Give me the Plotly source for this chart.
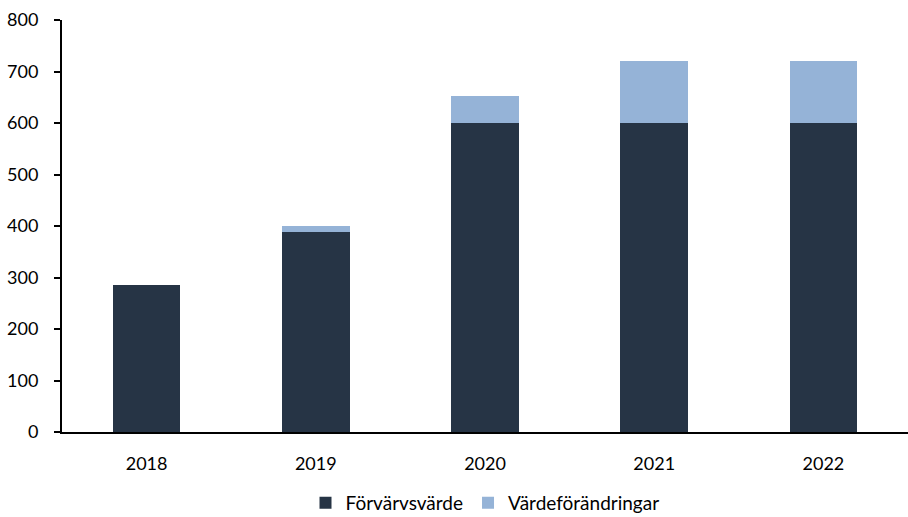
import plotly.graph_objects as go

years = ["2018", "2019", "2020", "2021", "2022"]
forvarvsvarde = [286, 388, 600, 600, 600]
vardeforandringar = [0, 12, 52, 120, 120]

fig = go.Figure()
fig.add_trace(go.Bar(x=years, y=forvarvsvarde, name="Förvärvsvärde",
                     marker=dict(color="#263445", line=dict(width=0))))
fig.add_trace(go.Bar(x=years, y=vardeforandringar, name="Värdeförändringar",
                     marker=dict(color="#95B3D7", line=dict(width=0))))

fig.update_layout(
    barmode="stack",
    bargap=0.6,
    width=908, height=517,
    margin=dict(l=62, r=0, t=20, b=85, autoexpand=False),
    plot_bgcolor="white", paper_bgcolor="white",
    font=dict(family="Lato, Open Sans, sans-serif", size=18, color="black"),
    showlegend=True,
    legend=dict(orientation="h", x=0.5, xanchor="center", y=-0.172, yanchor="middle",
                font=dict(size=19), itemwidth=30, traceorder="normal"),
    xaxis=dict(showline=True, linecolor="black", linewidth=2, ticks="",
               ticklabelstandoff=14,
               showgrid=False, tickfont=dict(size=18)),
    yaxis=dict(range=[0, 800], dtick=100, showline=True, linecolor="black", linewidth=2,
               ticks="outside", ticklen=6, tickcolor="black", tickwidth=2,
               ticklabelstandoff=12,
               showgrid=False, zeroline=False, tickfont=dict(size=18)),
)

fig.write_html("out.html")
